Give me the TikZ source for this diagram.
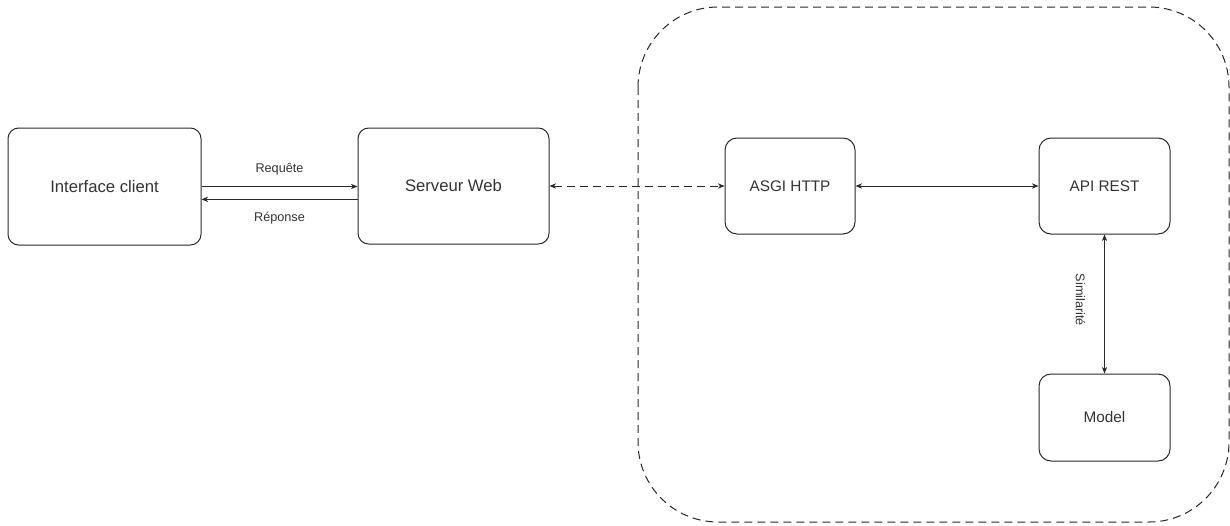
\documentclass[tikz,border=0pt]{standalone}
\usepackage{fontspec}
\setmainfont{Liberation Sans}
\usetikzlibrary{arrows.meta}
\definecolor{linegray}{RGB}{40,40,40}
\definecolor{textgray}{RGB}{51,51,51}

\begin{document}
\begin{tikzpicture}[x=0.75pt, y=0.75pt]
\tikzset{box/.style={draw=linegray, line width=0.75pt, rounded corners=8pt, align=center, text=textgray}}
\tikzset{bigbox/.style={box, font=\fontsize{12.5}{15}\selectfont}}
\tikzset{smallbox/.style={box, rounded corners=9pt, font=\fontsize{11.5}{14}\selectfont}}
\tikzset{lbl/.style={inner sep=0pt, text=textgray, font=\fontsize{9.5}{11}\selectfont}}
\tikzset{arr/.style={draw=linegray, line width=0.6pt, -{Stealth[length=5pt,width=4pt]}}}
\tikzset{biarr/.style={draw=linegray, line width=0.6pt, {Stealth[length=5pt,width=4pt]}-{Stealth[length=5pt,width=4pt]}}}

\useasboundingbox (0,0) rectangle (1230,-525);

%% dashed zone
\draw[linegray, line width=0.75pt, dash pattern=on 6pt off 3.75pt, rounded corners=60pt]
    (638,-7) rectangle (1229,-522);

%% boxes
\node[bigbox, minimum width=144.75pt, minimum height=87.75pt] at (104.5,-186.5) (client) {Interface client};
\node[bigbox, minimum width=143.25pt, minimum height=87pt] at (453.5,-186) (server) {Serveur Web};
\node[smallbox, minimum width=97.5pt, minimum height=72pt] at (790,-186) (asgi) {ASGI HTTP};
\node[smallbox, minimum width=98.25pt, minimum height=72pt] at (1104.5,-186) (api) {API REST};
\node[smallbox, minimum width=98.25pt, minimum height=65.25pt] at (1104.5,-417.5) (model) {Model};

%% links
\draw[arr] (client.east) -- node[lbl, above=8pt] (req) {Requête} (client.east -| server.west);
\draw[arr] ([yshift=-10pt]server.west) -- node[lbl, below=9pt] (rep) {Réponse} ([yshift=-10pt]server.west -| client.east);
\draw[biarr, dash pattern=on 6pt off 3.75pt] (server) -- (asgi);
\draw[biarr] (asgi) -- (api);
\draw[biarr] (api) -- node[lbl, rotate=-90, yshift=-18pt, xshift=-3pt] (sim) {Similarité} (model);

\end{tikzpicture}
\end{document}
